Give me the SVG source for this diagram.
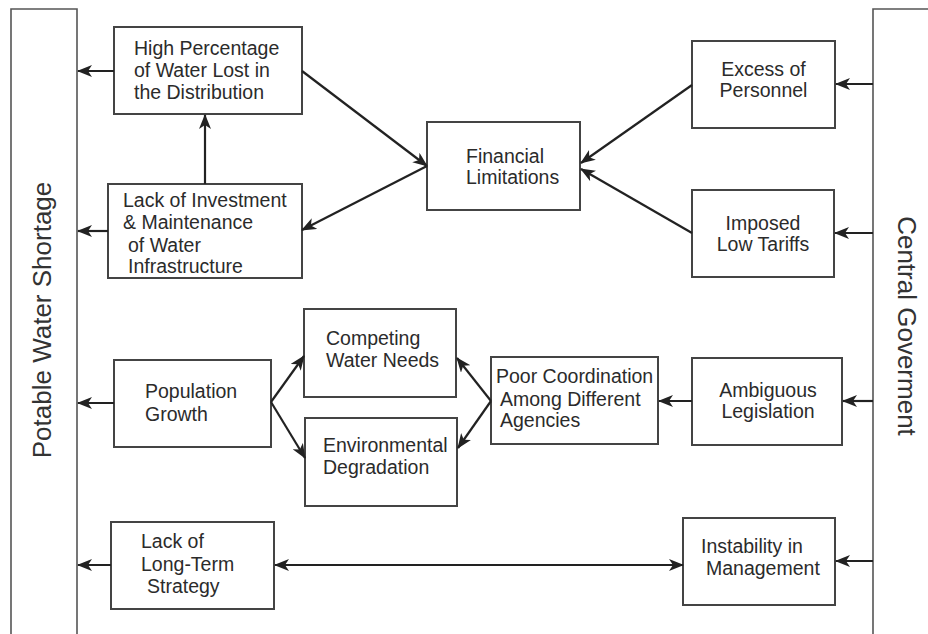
<svg xmlns="http://www.w3.org/2000/svg" width="928" height="634" viewBox="0 0 928 634">
<defs>
<marker id="ah" viewBox="0 0 15 12" markerWidth="15" markerHeight="12" refX="14" refY="6" orient="auto-start-reverse" markerUnits="userSpaceOnUse">
<path d="M0,0 L15,6 L0,12 L4,6 z" fill="#222"/>
</marker>
</defs>
<style>
.box{fill:#fff;stroke:#444;stroke-width:2}
.bar{fill:none;stroke:#555;stroke-width:1.6}
.t{font-family:"Liberation Sans",Arial,Helvetica,sans-serif;font-size:19.5px;fill:#2b2b2b}
.c{text-anchor:middle}
.big{font-family:"Liberation Sans",Arial,Helvetica,sans-serif;font-size:26px;fill:#333;text-anchor:middle}
.cn line{stroke:#222;stroke-width:2.2;marker-end:url(#ah)}
</style>
<rect width="928" height="634" fill="#fff"/>
<g id="potable-water-shortage">
<path class="bar" d="M11,640 V9 H77 V640"/>
<text class="big" transform="translate(51,320) rotate(-90)">Potable Water Shortage</text>
</g>
<g id="central-government">
<path class="bar" d="M873,640 V9 H940"/>
<text class="big" transform="translate(898,326) rotate(90)">Central Goverment</text>
</g>
<g id="high-percentage">
<rect class="box" x="114" y="27" width="188" height="87"/>
<text class="t" x="134" y="55">High Percentage</text>
<text class="t" x="134" y="77">of Water Lost in</text>
<text class="t" x="134" y="99">the Distribution</text>
</g>
<g id="lack-investment">
<rect class="box" x="108" y="184" width="194" height="94"/>
<text class="t" x="123" y="207">Lack of Investment</text>
<text class="t" x="123" y="229">&amp; Maintenance</text>
<text class="t" x="128" y="252">of Water</text>
<text class="t" x="128" y="273">Infrastructure</text>
</g>
<g id="financial-limitations">
<rect class="box" x="427" y="122" width="153" height="88"/>
<text class="t" x="466" y="163">Financial</text>
<text class="t" x="466" y="184">Limitations</text>
</g>
<g id="excess-personnel">
<rect class="box" x="692" y="41" width="143" height="87"/>
<text class="t c" x="763.5" y="76">Excess of</text>
<text class="t c" x="763.5" y="97">Personnel</text>
</g>
<g id="imposed-low-tariffs">
<rect class="box" x="692" y="190" width="142" height="87"/>
<text class="t c" x="763" y="230">Imposed</text>
<text class="t c" x="763" y="251">Low Tariffs</text>
</g>
<g id="population-growth">
<rect class="box" x="114" y="360" width="157" height="87"/>
<text class="t" x="145" y="398">Population</text>
<text class="t" x="145" y="421">Growth</text>
</g>
<g id="competing-water-needs">
<rect class="box" x="304" y="309" width="152" height="88"/>
<text class="t" x="326" y="345">Competing</text>
<text class="t" x="326" y="367">Water Needs</text>
</g>
<g id="environmental-degradation">
<rect class="box" x="305" y="418" width="152" height="88"/>
<text class="t" x="323" y="452">Environmental</text>
<text class="t" x="323" y="474">Degradation</text>
</g>
<g id="poor-coordination">
<rect class="box" x="491" y="357" width="167" height="87"/>
<text class="t" x="496" y="383">Poor Coordination</text>
<text class="t" x="500" y="406">Among Different</text>
<text class="t" x="500" y="427">Agencies</text>
</g>
<g id="ambiguous-legislation">
<rect class="box" x="692" y="358" width="150" height="87"/>
<text class="t c" x="768" y="397">Ambiguous</text>
<text class="t c" x="768" y="418">Legislation</text>
</g>
<g id="instability-management">
<rect class="box" x="683" y="518" width="152" height="87"/>
<text class="t" x="701" y="553">Instability in</text>
<text class="t" x="706" y="575">Management</text>
</g>
<g id="lack-long-term-strategy">
<rect class="box" x="111" y="522" width="163" height="87"/>
<text class="t" x="141" y="548">Lack of</text>
<text class="t" x="141" y="571">Long-Term</text>
<text class="t" x="147" y="593">Strategy</text>
</g>
<g id="connectors" class="cn">
<line x1="114" y1="71" x2="78" y2="71"/>
<line x1="108" y1="231" x2="78" y2="231"/>
<line x1="205" y1="184" x2="205" y2="115"/>
<line x1="302" y1="71" x2="427" y2="166"/>
<line x1="427" y1="166" x2="302" y2="230"/>
<line x1="692" y1="85" x2="581" y2="163"/>
<line x1="692" y1="233" x2="581" y2="169"/>
<line x1="873" y1="84" x2="836" y2="84"/>
<line x1="873" y1="233" x2="835" y2="233"/>
<line x1="114" y1="403" x2="78" y2="403"/>
<line x1="271" y1="402" x2="304" y2="356"/>
<line x1="271" y1="402" x2="305" y2="458"/>
<line x1="491" y1="401" x2="457" y2="358"/>
<line x1="491" y1="401" x2="458" y2="448"/>
<line x1="692" y1="401" x2="659" y2="401"/>
<line x1="873" y1="401" x2="843" y2="401"/>
<line x1="873" y1="561" x2="836" y2="561"/>
<line x1="111" y1="565" x2="78" y2="565"/>
<line x1="275" y1="565" x2="683" y2="565" style="marker-start:url(#ah)"/>
</g>
</svg>
